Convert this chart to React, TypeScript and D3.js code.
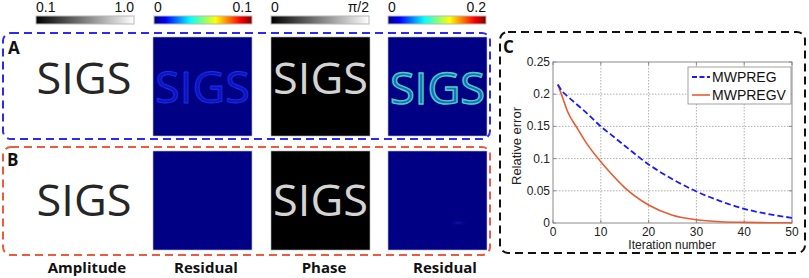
import React from "react";
import * as d3 from "d3";

const iterations = [1, 2, 3, 5, 7, 10, 12, 15, 20, 25, 30, 35, 40, 45, 50];
const mwpreg = [0.215, 0.204, 0.197, 0.184, 0.171, 0.15, 0.138, 0.12, 0.091, 0.068, 0.049, 0.034, 0.022, 0.014, 0.008];
const mwpregv = [0.215, 0.195, 0.174, 0.148, 0.124, 0.095, 0.078, 0.055, 0.028, 0.012, 0.005, 0.002, 0.001, 0.0005, 0.0003];
const xTicks = [0, 10, 20, 30, 40, 50];
const yTicks = [0, 0.05, 0.1, 0.15, 0.2, 0.25];
const seriesNames = ["MWPREG", "MWPREGV"];
const columnLabels = ["Amplitude", "Residual", "Phase", "Residual"];
const colorbarLabels = [["0.1", "1.0"], ["0", "0.1"], ["0", "π/2"], ["0", "0.2"]];
const jetStops = ["#000080", "#0000ff", "#00ffff", "#ffff00", "#ff0000", "#800000"];
const jetOffsets = [0, 0.12, 0.37, 0.63, 0.88, 1];

const SEGOE = "'Open Sans', 'Noto Sans', sans-serif";
const ARIAL = "'Liberation Sans', Arial, sans-serif";

export default function App() {
  const x = d3.scaleLinear().domain([0, 50]).range([553, 792]);
  const y = d3.scaleLinear().domain([0, 0.25]).range([223, 62]);
  const line = d3
    .line<number>()
    .x((_, i) => x(iterations[i]))
    .curve(d3.curveMonotoneX);
  const blueD = line.y((v) => y(v))(mwpreg) || "";
  const redD = line.y((v) => y(v))(mwpregv) || "";

  const colX = [36, 154, 271, 388];
  const imgX = [36, 153, 271, 388];
  const imgW = 99;
  const rowY = [37, 151];

  const sigs = (cx: number, base: number, fill: string, stroke?: string, sw?: number) => (
    <text
      x={cx}
      y={base}
      textAnchor="middle"
      fontFamily={SEGOE}
      fontSize={44}
      textLength={95}
      lengthAdjust="spacingAndGlyphs"
      fill={fill}
      stroke={stroke || "none"}
      strokeWidth={sw || 0}
    >
      SIGS
    </text>
  );

  return (
    <svg
      width={809}
      height={278}
      style={{ position: "absolute", left: 0, top: 0, background: "#fff" }}
      xmlns="http://www.w3.org/2000/svg"
    >
      <defs>
        <linearGradient id="gray" x1="0" x2="1" y1="0" y2="0">
          <stop offset="0" stopColor="#000" />
          <stop offset="1" stopColor="#fff" />
        </linearGradient>
        <linearGradient id="jet" x1="0" x2="1" y1="0" y2="0">
          {jetStops.map((c, i) => (
            <stop key={i} offset={jetOffsets[i]} stopColor={c} />
          ))}
        </linearGradient>
        <radialGradient id="spot">
          <stop offset="0" stopColor="#0a1cb0" />
          <stop offset="1" stopColor="#000085" stopOpacity={0} />
        </radialGradient>
      </defs>

      {/* colorbars */}
      {colX.map((cx, i) => (
        <g key={i}>
          <rect
            x={cx}
            y={16}
            width={98}
            height={8}
            fill={i === 0 || i === 2 ? "url(#gray)" : "url(#jet)"}
            stroke="#b8b8b8"
            strokeWidth={1}
          />
          <text x={cx} y={12} fontFamily={ARIAL} fontSize={14} fill="#111">
            {colorbarLabels[i][0]}
          </text>
          <text x={cx + 98} y={12} fontFamily={ARIAL} fontSize={14} textAnchor="end" fill="#111">
            {colorbarLabels[i][1]}
          </text>
        </g>
      ))}

      {/* row A images */}
      {sigs(84, 94, "#262626")}
      <rect x={imgX[1]} y={rowY[0]} width={imgW} height={imgW} fill="#000085" stroke="#b8b8d8" strokeWidth={0.6} />
      {sigs(imgX[1] + 49.5, 103, "#0c14c0", "#1e30e8", 0.8)}
      <rect x={imgX[2]} y={rowY[0]} width={imgW} height={imgW} fill="#000" stroke="#b0b0b0" strokeWidth={0.6} />
      {sigs(imgX[2] + 49.5, 94, "#d4d4d4")}
      <rect x={imgX[3]} y={rowY[0]} width={imgW} height={imgW} fill="#000085" stroke="#b8b8d8" strokeWidth={0.6} />
      {sigs(imgX[3] + 49.5, 104, "#1a68c8", "#48d0b8", 1.4)}

      {/* row B images */}
      {sigs(84, 216, "#262626")}
      <rect x={imgX[1]} y={rowY[1]} width={imgW} height={imgW} fill="#000085" stroke="#b8b8d8" strokeWidth={0.6} />
      <rect x={imgX[2]} y={rowY[1]} width={imgW} height={imgW} fill="#000" stroke="#b0b0b0" strokeWidth={0.6} />
      {sigs(imgX[2] + 49.5, 216, "#d4d4d4")}
      <rect x={imgX[3]} y={rowY[1]} width={imgW} height={imgW} fill="#000085" stroke="#b8b8d8" strokeWidth={0.6} />
      <ellipse cx={458} cy={223} rx={10} ry={3} fill="url(#spot)" />

      {/* dashed boxes */}
      <rect x={3} y={33} width={487} height={106} rx={8} fill="none" stroke="#2a2af0" strokeWidth={2} strokeDasharray="8 5" />
      <rect x={3} y={147} width={487} height={108} rx={8} fill="none" stroke="#ee5a3a" strokeWidth={2} strokeDasharray="8 5" />
      <rect x={500} y={32} width={305} height={221} rx={8} fill="none" stroke="#111" strokeWidth={2} strokeDasharray="8 5" />

      <text x={8} y={54} fontFamily={SEGOE} fontWeight="bold" fontSize={17} fill="#111">A</text>
      <text x={7} y={166} fontFamily={SEGOE} fontWeight="bold" fontSize={17} fill="#111">B</text>
      <text x={503} y={53} fontFamily={SEGOE} fontWeight="bold" fontSize={17} fill="#111">C</text>

      {/* column labels */}
      {columnLabels.map((l, i) => (
        <text
          key={i}
          x={[87, 206, 324, 445][i]}
          y={273}
          textAnchor="middle"
          fontFamily={SEGOE}
          fontWeight="bold"
          fontSize={15}
          fill="#111"
        >
          {l}
        </text>
      ))}

      {/* chart C */}
      <rect x={553} y={62} width={239} height={161} fill="#fff" />
      {xTicks.slice(1, -1).map((t) => (
        <line key={t} x1={x(t)} x2={x(t)} y1={62} y2={223} stroke="#9a9a9a" strokeWidth={0.8} strokeDasharray="1.5 1.5" />
      ))}
      {yTicks.slice(1, -1).map((t) => (
        <line key={t} x1={553} x2={792} y1={y(t)} y2={y(t)} stroke="#9a9a9a" strokeWidth={0.8} strokeDasharray="1.5 1.5" />
      ))}
      <rect x={553} y={62} width={239} height={161} fill="none" stroke="#8a8a8a" strokeWidth={1} />
      {xTicks.map((t) => (
        <g key={t}>
          <line x1={x(t)} x2={x(t)} y1={223} y2={220} stroke="#8a8a8a" />
          <line x1={x(t)} x2={x(t)} y1={62} y2={65} stroke="#8a8a8a" />
          <text x={x(t)} y={236} textAnchor="middle" fontFamily={ARIAL} fontSize={12} fill="#222">
            {t}
          </text>
        </g>
      ))}
      {yTicks.map((t) => (
        <g key={t}>
          <line x1={553} x2={556} y1={y(t)} y2={y(t)} stroke="#8a8a8a" />
          <line x1={792} x2={789} y1={y(t)} y2={y(t)} stroke="#8a8a8a" />
          <text x={550} y={y(t) + 4} textAnchor="end" fontFamily={ARIAL} fontSize={12} fill="#222">
            {String(t)}
          </text>
        </g>
      ))}
      <text x={672} y={249} textAnchor="middle" fontFamily={ARIAL} fontSize={12} fill="#222">
        Iteration number
      </text>
      <text
        transform={`translate(520.5,146) rotate(-90)`}
        textAnchor="middle"
        fontFamily={ARIAL}
        fontSize={12}
        textLength={78}
        lengthAdjust="spacingAndGlyphs"
        fill="#222"
      >
        Relative error
      </text>
      <path d={redD} fill="none" stroke="#ea5a32" strokeWidth={1.6} />
      <path d={blueD} fill="none" stroke="#1a1aff" strokeWidth={1.8} strokeDasharray="6 3" />

      {/* legend */}
      <rect x={688} y={67} width={103} height={37} fill="#fff" stroke="#8a8a8a" strokeWidth={0.8} />
      <line x1={692} x2={710} y1={77} y2={77} stroke="#1a1aff" strokeWidth={1.8} strokeDasharray="5 2.5" />
      <line x1={692} x2={710} y1={95} y2={95} stroke="#ea5a32" strokeWidth={1.6} />
      {seriesNames.map((n, i) => (
        <text key={n} x={712} y={82 + i * 17.5} fontFamily={ARIAL} fontSize={14} fill="#111">
          {n}
        </text>
      ))}
    </svg>
  );
}
